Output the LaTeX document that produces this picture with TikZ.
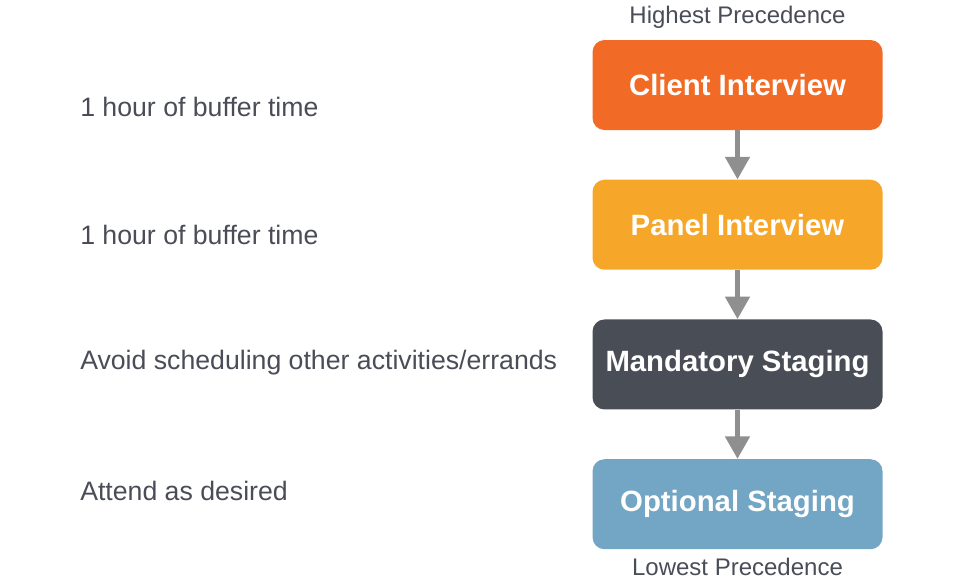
\documentclass[tikz,border=0pt]{standalone}
\usepackage{fontspec}
\setmainfont{Liberation Sans}
\usetikzlibrary{arrows.meta,positioning}

\definecolor{clientorange}{HTML}{F26B26}
\definecolor{panelyellow}{HTML}{F6A628}
\definecolor{stagingdark}{HTML}{494D56}
\definecolor{optionalblue}{HTML}{73A5C4}
\definecolor{notegray}{HTML}{4A4D57}
\definecolor{linkgray}{HTML}{8F8F8F}

\tikzset{
  stage/.style={rectangle, rounded corners=9pt, minimum width=217.5pt,
    minimum height=67.5pt, text=white, font=\fontsize{22}{26}\selectfont\bfseries},
  note/.style={anchor=west, text=notegray, font=\fontsize{20}{24}\selectfont, inner sep=0pt},
  rank/.style={text=notegray, font=\fontsize{18}{22}\selectfont, inner sep=0pt},
  link/.style={draw=linkgray, line width=3.75pt,
    -{Triangle[length=17pt,width=18pt]}},
}

\begin{document}
\begin{tikzpicture}[x=0.75pt, y=-0.75pt, node distance=36.9pt]
  \useasboundingbox (0,0) rectangle (960,587);
  % Define nodes
  \node[stage, fill=clientorange] at (737.5,85) (client) {Client Interview};
  \node[stage, fill=panelyellow, below=of client] (panel) {Panel Interview};
  \node[stage, fill=stagingdark, below=of panel] (mandatory) {Mandatory Staging};
  \node[stage, fill=optionalblue, below=of mandatory] (optional) {Optional Staging};
  \node[rank] at (737.5,17.5) (highest) {Highest Precedence};
  \node[rank] at (737.5,567) (lowest) {Lowest Precedence};
  % Notes on the left
  \node[note] at (80,107) (clientnote) {1 hour of buffer time};
  \node[note] at (80,235) (panelnote) {1 hour of buffer time};
  \node[note] at (80,363) (mandatorynote) {Avoid scheduling other activities/errands};
  \node[note] at (80,491) (optionalnote) {Attend as desired};
  % Connect the nodes
  \draw[link] (client) -- (panel) ; %
  \draw[link] (panel) -- (mandatory) ; %
  \draw[link] (mandatory) -- (optional) ; %
\end{tikzpicture}
\end{document}
